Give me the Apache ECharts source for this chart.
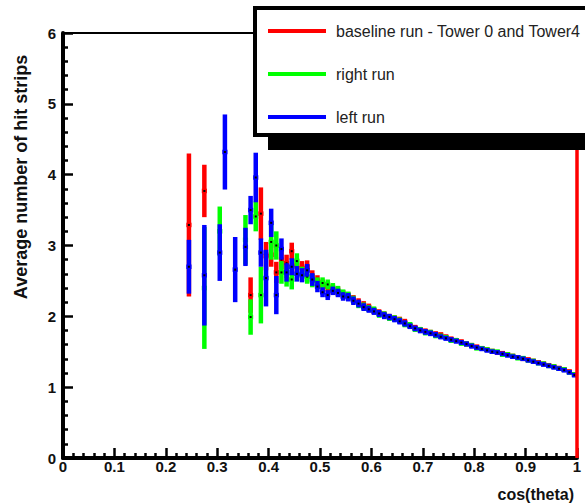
<!DOCTYPE html>
<html><head><meta charset="utf-8">
<script src="https://cdn.jsdelivr.net/npm/echarts@6.0.0/dist/echarts.min.js"></script>
<style>html,body{margin:0;padding:0;background:#fff}#c{width:585px;height:503px}</style>
</head><body><div id="c"></div>
<script>
// ---------- data ----------
const seriesNames = ['baseline run - Tower 0 and Tower4', 'right run', 'left run'];
const xTickLabels = ['0','0.1','0.2','0.3','0.4','0.5','0.6','0.7','0.8','0.9','1'];
const yTickLabels = ['0','1','2','3','4','5','6'];
const binHalfWidth = 0.005;

const tailX = [0.555,0.565,0.575,0.585,0.595,0.605,0.615,0.625,0.635,0.645,0.655,0.665,0.675,0.685,0.695,
  0.705,0.715,0.725,0.735,0.745,0.755,0.765,0.775,0.785,0.795,0.805,0.815,0.825,0.835,0.845,
  0.855,0.865,0.875,0.885,0.895,0.905,0.915,0.925,0.935,0.945,0.955,0.965,0.975,0.985,0.995];
const tailErr = [0.06,0.06,0.055,0.055,0.05,0.05,0.05,0.05,0.045,0.045,0.045,0.045,
  0.04,0.04,0.04,0.04,0.04,0.04,0.035,0.035,0.035,0.035,0.035,0.035,0.035,
  0.03,0.03,0.03,0.03,0.03,0.03,0.03,0.03,0.03,0.03,0.03,0.03,0.03,0.03,0.03,0.03,0.03,0.03,0.03,0.03];

// baseline run (red)
const redEarlyX = [0.245,0.275,0.365,0.385,0.395,0.405,0.415,0.425,0.435,0.445,0.455,0.465,0.475,0.485,0.495,0.505,0.515,0.525,0.535,0.545];
const redEarlyY = [3.29,3.77,2.30,3.45,2.85,2.87,2.62,2.80,2.75,2.92,2.72,2.68,2.70,2.56,2.50,2.44,2.42,2.38,2.35,2.31];
const redEarlyErr = [1.01,0.37,0.25,0.37,0.20,0.17,0.15,0.14,0.12,0.12,0.10,0.10,0.09,0.09,0.08,0.08,0.07,0.07,0.07,0.06];
const redTailY = [2.28,2.24,2.20,2.16,2.13,2.08,2.05,2.02,1.99,1.97,1.95,1.92,1.87,1.84,1.81,1.79,1.77,1.75,1.74,1.71,
  1.68,1.66,1.64,1.61,1.59,1.57,1.55,1.53,1.51,1.49,1.48,1.46,1.44,1.42,1.40,1.39,1.37,1.35,1.33,1.31,1.29,1.27,1.25,1.22,1.18];
const redEdgeX = [1.0];   // full-height red bar at the upper edge of the range

// right run (green)
const greenEarlyX = [0.275,0.305,0.355,0.365,0.375,0.385,0.405,0.415,0.425,0.435,0.445,0.455,0.465,0.475,0.485,0.495,0.505,0.515,0.525,0.535,0.545];
const greenEarlyY = [2.40,3.20,3.08,1.99,3.41,2.30,3.05,3.00,2.62,2.57,2.52,2.78,2.60,2.56,2.50,2.47,2.47,2.45,2.40,2.36,2.32];
const greenEarlyErr = [0.86,0.35,0.35,0.25,0.21,0.40,0.25,0.20,0.16,0.15,0.14,0.11,0.10,0.10,0.09,0.08,0.08,0.07,0.07,0.07,0.06];
const greenTailY = [2.29,2.23,2.17,2.14,2.11,2.09,2.03,2.02,1.98,1.97,1.94,1.89,1.88,1.82,1.81,1.77,1.77,1.73,1.72,1.70,
  1.66,1.66,1.62,1.61,1.59,1.55,1.55,1.53,1.51,1.50,1.46,1.46,1.44,1.41,1.41,1.38,1.37,1.34,1.33,1.30,1.29,1.26,1.25,1.21,1.18];

// left run (blue)
const blueEarlyX = [0.245,0.275,0.305,0.315,0.335,0.355,0.365,0.375,0.385,0.395,0.405,0.415,0.425,0.435,0.445,0.455,0.465,0.475,0.485,0.495,0.505,0.515,0.525,0.535,0.545];
const blueEarlyY = [2.70,2.58,2.90,4.32,2.66,2.98,3.50,3.96,2.90,2.54,3.32,2.30,2.95,2.62,2.70,2.60,2.58,2.65,2.52,2.42,2.34,2.30,2.36,2.33,2.28];
const blueEarlyErr = [0.38,0.71,0.40,0.53,0.46,0.27,0.20,0.35,0.20,0.40,0.20,0.27,0.15,0.13,0.12,0.11,0.10,0.09,0.09,0.08,0.07,0.07,0.06,0.06,0.06];
const blueTailY = [2.27,2.22,2.18,2.13,2.10,2.07,2.04,2.01,1.99,1.96,1.93,1.90,1.86,1.83,1.80,1.78,1.76,1.74,1.71,1.69,
  1.67,1.65,1.63,1.61,1.58,1.56,1.54,1.52,1.50,1.49,1.47,1.45,1.43,1.42,1.40,1.38,1.36,1.34,1.32,1.30,1.28,1.26,1.24,1.21,1.17];

// ---------- build ----------
function rows(xs, ys, es) { return xs.map((x, i) => [x, ys[i], es[i]]); }
const redData = rows([...redEarlyX, ...tailX], [...redEarlyY, ...redTailY], [...redEarlyErr, ...tailErr]);
const greenData = rows([...greenEarlyX, ...tailX], [...greenEarlyY, ...greenTailY], [...greenEarlyErr, ...tailErr]);
const blueData = rows([...blueEarlyX, ...tailX], [...blueEarlyY, ...blueTailY], [...blueEarlyErr, ...tailErr]);

const FONT = '"Liberation Sans", Arial, Helvetica, sans-serif';

function renderErr(params, api) {
  const x = api.value(0), y = api.value(1), e = api.value(2);
  const c = api.coord([x, y]);
  const t = api.coord([x, y + e]);
  const b = api.coord([x, y - e]);
  const l = api.coord([x - binHalfWidth, y]);
  const r = api.coord([x + binHalfWidth, y]);
  const col = api.visual('color');
  const w = 4.5;
  return {
    type: 'group',
    children: [
      { type: 'rect', shape: { x: c[0] - w / 2, y: t[1], width: w, height: b[1] - t[1] }, style: { fill: col } },
      { type: 'rect', shape: { x: l[0], y: c[1] - w / 2, width: r[0] - l[0], height: w }, style: { fill: col } },
      { type: 'rect', shape: { x: c[0] - 1, y: c[1] - 1, width: 2, height: 2 }, style: { fill: '#000' } }
    ]
  };
}

const chart = echarts.init(document.getElementById('c'), null, { renderer: 'svg' });
chart.setOption({
  backgroundColor: '#fff',
  animation: false,
  grid: { left: 63, right: 8, top: 33, bottom: 45, show: true, borderColor: '#000', borderWidth: 2, backgroundColor: 'transparent' },
  xAxis: {
    type: 'value', min: 0, max: 1, interval: 0.1,
    axisLine: { onZero: false, lineStyle: { color: '#000', width: 4 } },
    axisTick: { inside: true, length: 10, lineStyle: { color: '#000', width: 2.5 } },
    minorTick: { show: true, splitNumber: 5, length: 5, lineStyle: { color: '#000', width: 2.5 } },
    splitLine: { show: false },
    axisLabel: { formatter: v => xTickLabels[Math.round(v * 10)], fontSize: 15, fontWeight: 'bold', color: '#111', margin: 1, fontFamily: FONT, showMinLabel: true, showMaxLabel: true }
  },
  yAxis: {
    type: 'value', min: 0, max: 6, interval: 1,
    axisLine: { onZero: false, lineStyle: { color: '#000', width: 4 } },
    axisTick: { inside: true, length: 10, lineStyle: { color: '#000', width: 2.5 } },
    minorTick: { show: true, splitNumber: 5, length: 5, lineStyle: { color: '#000', width: 2.5 } },
    splitLine: { show: false },
    axisLabel: { formatter: v => yTickLabels[Math.round(v)], fontSize: 15, fontWeight: 'bold', color: '#111', margin: 7, fontFamily: FONT }
  },
  legend: {
    orient: 'vertical', left: 263, top: 18, itemWidth: 58, itemHeight: 4, itemGap: 27,
    icon: 'rect', z: 100,
    textStyle: { fontSize: 16, color: '#222', fontFamily: FONT, padding: [0, 0, 0, 5] },
    data: seriesNames
  },
  graphic: [
    { type: 'rect', z: 50, shape: { x: 268, y: 20, width: 330, height: 130 }, style: { fill: '#000' } },
    { type: 'rect', z: 51, shape: { x: 255, y: 8, width: 340, height: 127 }, style: { fill: '#fff', stroke: '#000', lineWidth: 4 } },
    { type: 'text', z: 52, x: 21, y: 177, rotation: Math.PI / 2,
      style: { text: 'Average number of hit strips', fontSize: 18, fontWeight: 'bold', fontFamily: FONT, fill: '#111', align: 'center', verticalAlign: 'middle' } },
    { type: 'text', z: 52, x: 574, y: 494,
      style: { text: 'cos(theta)', fontSize: 16, fontWeight: 'bold', fontFamily: FONT, fill: '#111', align: 'right', verticalAlign: 'middle' } }
  ],
  series: [
    { name: seriesNames[0], type: 'custom', renderItem: renderErr, data: redData, encode: { x: 0, y: 1 }, itemStyle: { color: '#ff0000' }, z: 2,
      markLine: { silent: true, symbol: 'none', label: { show: false }, lineStyle: { color: '#ff0000', width: 3.5, type: 'solid' },
        data: redEdgeX.map(v => ({ xAxis: v })) } },
    { name: seriesNames[1], type: 'custom', renderItem: renderErr, data: greenData, encode: { x: 0, y: 1 }, itemStyle: { color: '#00ff00' }, z: 3 },
    { name: seriesNames[2], type: 'custom', renderItem: renderErr, data: blueData, encode: { x: 0, y: 1 }, itemStyle: { color: '#0000ff' }, z: 4 }
  ]
});
</script></body></html>
